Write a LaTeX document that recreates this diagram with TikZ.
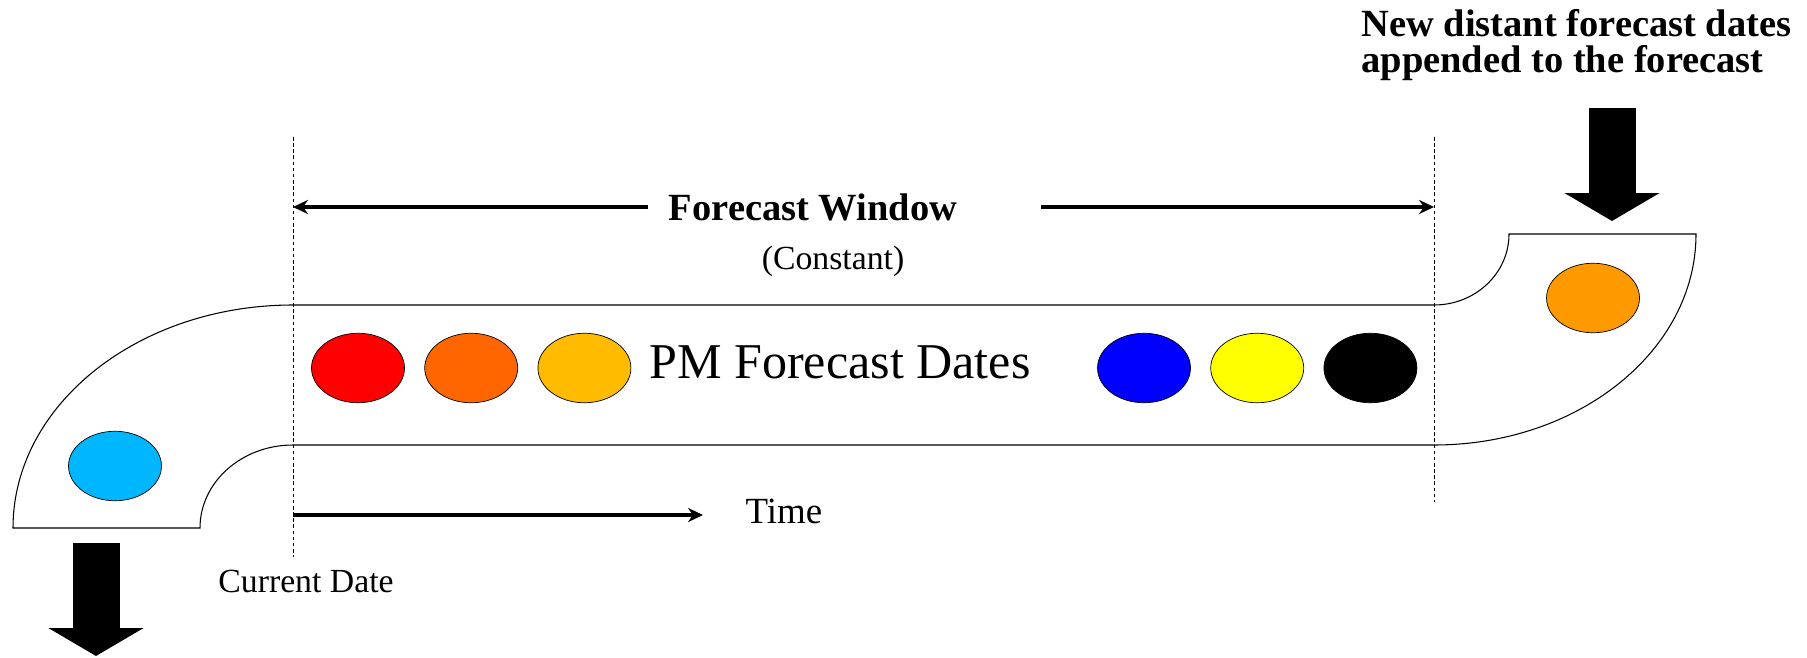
\documentclass[tikz,border=0pt]{standalone}
\usepackage{fontspec}
\setmainfont{Liberation Serif}
\usepackage{xcolor}
\usepackage{tikz}
\usetikzlibrary{shapes,arrows,positioning,calc,arrows.meta}

\definecolor{dotRed}{HTML}{FF0000}
\definecolor{dotOrange}{HTML}{FF6600}
\definecolor{dotAmber}{HTML}{FFBB00}
\definecolor{dotBlue}{HTML}{0000FF}
\definecolor{dotYellow}{HTML}{FFFF00}
\definecolor{dotSky}{HTML}{00B7FF}
\definecolor{dotTangerine}{HTML}{FF9900}

\tikzset{
  tubeLine/.style={
    draw=black,
    line width=0.6pt
  },
  guideLine/.style={
    dash pattern=on 2pt off 1.5pt,
    line width=0.5pt
  },
  dateDot/.style={
    ellipse,
    draw=black,
    line width=0.4pt,
    minimum width=18.6mm,
    minimum height=13.9mm,
    inner sep=0pt
  },
  arrowLine/.style={
    -{Stealth[length=8.5pt,width=8pt]},
    line width=2.8pt
  },
  bigArrow/.style={
    -{Triangle[length=5.6mm,width=18.8mm]},
    line width=9.4mm
  },
  boldLabel/.style={
    font=\bfseries\fontsize{21.9}{20.5}\selectfont
  },
  bigLabel/.style={
    font=\fontsize{28.5}{32}\selectfont
  },
  smallLabel/.style={
    font=\fontsize{19.2}{22}\selectfont
  },
  timeLabel/.style={
    font=\fontsize{21}{24}\selectfont
  }
}

\begin{document}
\begin{tikzpicture}[x=0.2mm, y=0.2mm, node distance=3.9mm]
        \useasboundingbox (0,0) rectangle (1807,657);

        % the tube
        \draw[tubeLine] (13,129) arc[start angle=180, end angle=90, x radius=280, y radius=223]
          -- (1434,352) arc[start angle=270, end angle=360, x radius=75, y radius=71]
          -- (1696,423) arc[start angle=0, end angle=-90, x radius=262, y radius=211]
          -- (293,212) arc[start angle=90, end angle=180, x radius=93, y radius=83]
          -- cycle;

        \coordinate (nowTop) at (293,520);
        \coordinate (nowBot) at (293,100);
        \coordinate (endTop) at (1434,520);
        \coordinate (endBot) at (1434,155);
        \draw[guideLine] (nowTop) -- (nowBot);
        \draw[guideLine] (endTop) -- (endBot);

        % dates inside the window
        \node[dateDot, fill=dotRed] (date1) at (358,289) {};
        \node[dateDot, fill=dotOrange, right=of date1] (date2) {};
        \node[dateDot, fill=dotAmber, right=of date2] (date3) {};
        \node[dateDot, fill=dotBlue] (date4) at (1144,289) {};
        \node[dateDot, fill=dotYellow, right=of date4] (date5) {};
        \node[dateDot, fill=black, right=of date5] (date6) {};
        \node[dateDot, fill=dotSky] (oldDate) at (115,191) {};
        \node[dateDot, fill=dotTangerine] (newDate) at (1593,359) {};

        \node[bigLabel, anchor=base] (pmLabel) at (840,279) {PM Forecast Dates};

        % window
        \node[boldLabel, anchor=base] (fwLabel) at (813,437) {Forecast Window};
        \node[smallLabel, anchor=base] (constLabel) at (833,388) {(Constant)};
        \coordinate (fwLeft) at (648,450);
        \coordinate (fwRight) at (1041,450);
        \draw[arrowLine] (fwLeft) -- (fwLeft -| nowTop);
        \draw[arrowLine] (fwRight) -- (fwRight -| endTop);

        % time axis
        \coordinate (timeStart) at (293,142);
        \coordinate (timeEnd) at (703,142);
        \draw[arrowLine] (timeStart) -- (timeEnd);
        \node[timeLabel, anchor=base] (timeText) at (784,134) {Time};
        \node[smallLabel, anchor=base] (nowText) at (306,65) {Current Date};

        % in and out
        \coordinate (dropTop) at (96,114);
        \coordinate (dropTip) at (96,1);
        \coordinate (addTop) at (1612,549);
        \coordinate (addTip) at (1612,436);
        \draw[bigArrow] (dropTop) -- (dropTip);
        \draw[bigArrow] (addTop) -- (addTip);
        \node[boldLabel, anchor=base west, align=left, inner sep=0pt] (addText) at (1361,584)
          {New distant forecast dates\\appended to the forecast};
    \end{tikzpicture}
\end{document}
